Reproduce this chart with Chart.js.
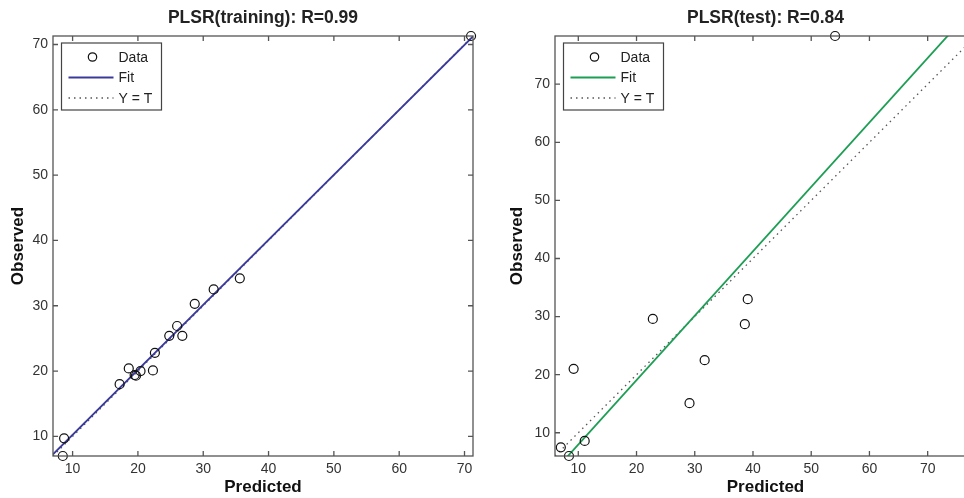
<!DOCTYPE html>
<html>
<head>
<meta charset="utf-8">
<script src="https://cdn.jsdelivr.net/npm/chart.js@4.4.1/dist/chart.umd.min.js"></script>
<style>
  html, body { margin: 0; padding: 0; background: #fff; overflow: hidden; width: 964px; height: 498px; }
  .panel { position: absolute; top: 0; height: 498px; }
  #left { left: 0; width: 480px; }
  #right { left: 484px; width: 498px; }
</style>
</head>
<body>
<div class="panel" id="left"><canvas id="grafico-treino"></canvas></div>
<div class="panel" id="right"><canvas id="grafico-teste"></canvas></div>
<script>
// valores
const tickValues = [10, 20, 30, 40, 50, 60, 70];

const trainPredicted = [8.7, 8.5, 17.2, 18.6, 19.5, 19.7, 20.4, 22.3, 22.6, 24.8, 26.0, 26.8, 28.7, 31.6, 35.6, 71.0];
const trainObserved  = [9.7, 7.0, 18.0, 20.4, 19.4, 19.3, 20.0, 20.1, 22.8, 25.4, 26.9, 25.4, 30.3, 32.5, 34.2, 71.3];
const trainFit = [0.995, 0.3];   // inclinação, intercepto
const trainRange = [7.0, 71.3];

const testPredicted = [7.0, 8.4, 11.1, 9.2, 22.8, 29.1, 31.7, 38.6, 39.1, 54.1];
const testObserved  = [7.5, 6.0, 8.6, 21.0, 29.6, 15.1, 22.5, 28.7, 33.0, 78.3];
const testFit = [1.109, -3.12];
const testRange = [6.0, 78.3];

const tickFont = { family: "'Liberation Sans Narrow', 'Arial Narrow', 'Liberation Sans', Arial, sans-serif", size: 14 };
const boldFont = { family: "'Liberation Sans', Arial, sans-serif", size: 17, weight: 'bold' };

// caixa, marcas internas e legenda no estilo MATLAB
const boxPlugin = {
  id: 'caixa',
  afterDraw(chart) {
    const { ctx, chartArea: a, scales } = chart;
    ctx.save();
    ctx.strokeStyle = '#555';
    ctx.lineWidth = 1.3;
    ctx.strokeRect(a.left, a.top, a.right - a.left, a.bottom - a.top);
    ctx.beginPath();
    tickValues.forEach(v => {
      const px = scales.x.getPixelForValue(v);
      if (px > a.left && px < a.right) {
        ctx.moveTo(px, a.bottom); ctx.lineTo(px, a.bottom - 5);
        ctx.moveTo(px, a.top); ctx.lineTo(px, a.top + 5);
      }
      const py = scales.y.getPixelForValue(v);
      if (py > a.top && py < a.bottom) {
        ctx.moveTo(a.left, py); ctx.lineTo(a.left + 5, py);
        ctx.moveTo(a.right, py); ctx.lineTo(a.right - 5, py);
      }
    });
    ctx.stroke();

    // legenda
    const ds = chart.data.datasets;
    const bx = a.left + 8.5, by = a.top + 7;
    ctx.fillStyle = '#fff';
    ctx.fillRect(bx, by, 100, 67);
    ctx.strokeStyle = '#444';
    ctx.lineWidth = 1.2;
    ctx.strokeRect(bx, by, 100, 67);
    ctx.font = "14px 'Liberation Sans', Arial, sans-serif";
    ctx.textBaseline = 'middle';
    ctx.fillStyle = '#222';
    ds.forEach((d, i) => {
      const y = by + 14 + i * 20.5;
      if (i === 0) {
        ctx.beginPath();
        ctx.arc(bx + 31, y, 4.2, 0, Math.PI * 2);
        ctx.strokeStyle = d.borderColor;
        ctx.lineWidth = d.borderWidth;
        ctx.stroke();
      } else {
        ctx.beginPath();
        ctx.setLineDash(d.borderDash || []);
        ctx.strokeStyle = d.borderColor;
        ctx.lineWidth = d.borderWidth + 0.4;
        ctx.moveTo(bx + 7, y); ctx.lineTo(bx + 52, y);
        ctx.stroke();
        ctx.setLineDash([]);
      }
      ctx.fillStyle = '#222';
      ctx.fillText(d.label, bx + 57, y + 1);
    });
    ctx.restore();
  }
};

function criarGrafico(id, titulo, pred, obs, fit, range, fitColor, yWidth, yTitlePad, padRight) {
  const fitLine = range.map(x => ({ x: x, y: fit[0] * x + fit[1] }));
  const idLine = range.map(x => ({ x: x, y: x }));
  const pontos = pred.map((p, i) => ({ x: p, y: obs[i] }));

  const setTicks = scale => { scale.ticks = tickValues.map(v => ({ value: v })); };

  return new Chart(document.getElementById(id), {
    type: 'scatter',
    data: {
      datasets: [
        { label: 'Data', data: pontos, pointStyle: 'circle', pointRadius: 4.5, borderColor: '#111',
          backgroundColor: 'rgba(0,0,0,0)', borderWidth: 1.2, clip: false },
        { label: 'Fit', data: fitLine, showLine: true, pointRadius: 0, borderColor: fitColor, borderWidth: 1.8 },
        { label: 'Y = T', data: idLine, showLine: true, pointRadius: 0, borderColor: '#555',
          borderWidth: 1.3, borderDash: [1.5, 4] }
      ]
    },
    options: {
      responsive: true,
      maintainAspectRatio: false,
      animation: false,
      events: [],
      layout: { padding: { left: 0, right: padRight, top: 0, bottom: 0 } },
      plugins: {
        legend: { display: false },
        tooltip: { enabled: false },
        title: {
          display: true, text: titulo, color: '#222', fullSize: false,
          font: { family: "'Liberation Sans', Arial, sans-serif", size: 17.5, weight: 'bold' },
          padding: { top: 8, bottom: 7 }
        }
      },
      scales: {
        x: {
          type: 'linear', min: range[0], max: range[1],
          afterBuildTicks: setTicks,
          afterFit: s => { s.height = 42; },
          grid: { display: false, drawTicks: false },
          border: { display: false },
          ticks: { color: '#333', font: tickFont, padding: 5, maxRotation: 0 },
          title: { display: true, text: 'Predicted', color: '#111', font: boldFont, padding: { top: 0, bottom: 0 } }
        },
        y: {
          type: 'linear', min: range[0], max: range[1],
          afterBuildTicks: setTicks,
          afterFit: s => { s.width = yWidth; },
          grid: { display: false, drawTicks: false },
          border: { display: false },
          ticks: { color: '#333', font: tickFont, padding: 5 },
          title: { display: true, text: 'Observed', color: '#111', font: boldFont, padding: { top: yTitlePad, bottom: 0 } }
        }
      }
    },
    plugins: [boxPlugin]
  });
}

criarGrafico('grafico-treino', 'PLSR(training): R=0.99', trainPredicted, trainObserved, trainFit, trainRange,
  '#3a3a9c', 53, 8, 7);
criarGrafico('grafico-teste', 'PLSR(test): R=0.84', testPredicted, testObserved, testFit, testRange,
  '#1d9e55', 71, 23, 6);
</script>
</body>
</html>
